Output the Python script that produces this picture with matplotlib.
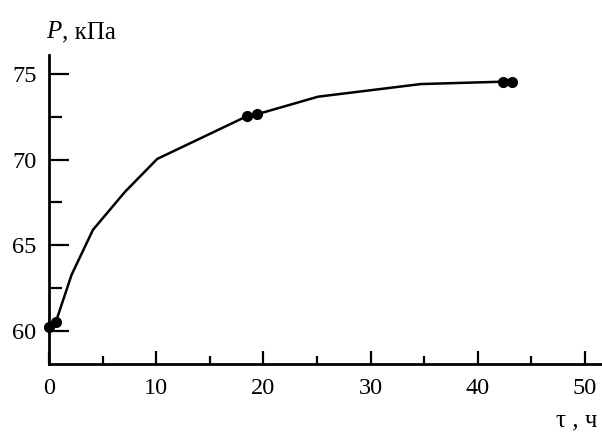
import matplotlib
matplotlib.use("Agg")
import matplotlib.pyplot as plt
from matplotlib.ticker import MultipleLocator

# Curve
tau_curve = [0.0, 0.65, 2.1, 4.1, 7.1, 10.1, 18.5, 19.4, 25.1, 34.7, 42.4, 43.2]
P_curve = [60.2, 60.53, 63.26, 65.9, 68.13, 70.05, 72.56, 72.66, 73.69, 74.43, 74.57, 74.57]

# Measured points
tau_pts = [0.0, 0.65, 18.5, 19.4, 42.4, 43.2]
P_pts = [60.2, 60.53, 72.56, 72.66, 74.57, 74.57]

x_major = [0, 10, 20, 30, 40, 50]
y_major = [60, 65, 70, 75]

plt.rcParams['font.family'] = ['Liberation Serif', 'DejaVu Serif']

fig = plt.figure(figsize=(6.02, 4.32), dpi=100)
ax = fig.add_axes([49/602, 68/432, 1 - 49/602, (364-55)/432])

ax.plot(tau_curve, P_curve, color='black', lw=1.8, clip_on=False, zorder=3)
ax.plot(tau_pts, P_pts, 'o', color='black', ms=7, clip_on=False, zorder=4)

ax.set_xlim(0, 51.6)
ax.set_ylim(58.05, 76.13)

for s in ['top', 'right']:
    ax.spines[s].set_visible(False)
for s in ['left', 'bottom']:
    ax.spines[s].set_linewidth(2.0)

ax.set_xticks(x_major)
ax.set_yticks(y_major)
ax.xaxis.set_minor_locator(MultipleLocator(5))
ax.yaxis.set_minor_locator(MultipleLocator(2.5))

ax.tick_params(axis='y', which='major', direction='in', length=14.5, width=1.6, pad=9, labelsize=17.5)
ax.tick_params(axis='y', which='minor', direction='in', length=9.5, width=1.6)
ax.tick_params(axis='x', which='major', direction='in', length=9.5, width=1.6, pad=10, labelsize=17.5)
ax.tick_params(axis='x', which='minor', direction='in', length=5.8, width=1.6)

fig.text(46/602, 1 - 38/432, "P", style='italic', fontsize=18, va='baseline', ha='left')
fig.text(62/602, 1 - 38/432, ", кПа", fontsize=18, va='baseline', ha='left')
fig.text(556/602, 1 - 426/432, "τ , ч", fontsize=18, va='baseline', ha='left')

fig.savefig("out.png", dpi=100)
